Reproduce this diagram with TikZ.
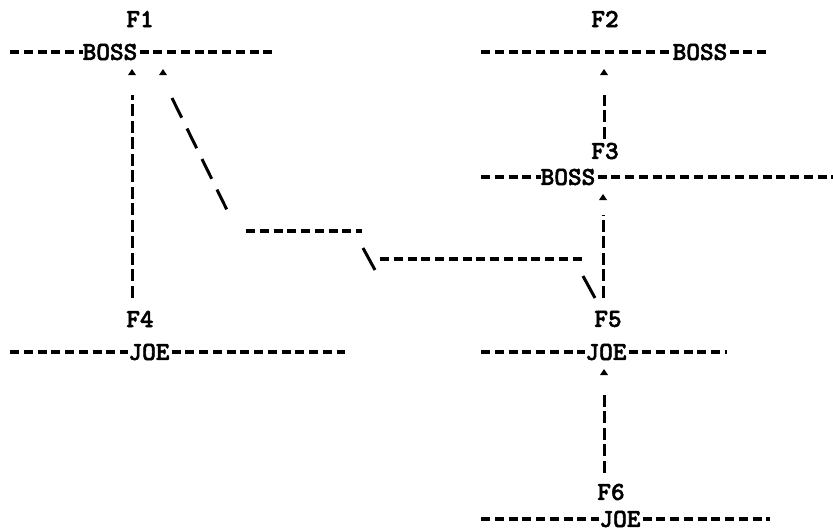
\documentclass[tikz,border=0pt]{standalone}
\usepackage{fontspec}
\newfontfamily\typer{lmmonolt10-bold}[Extension=.otf, FakeStretch=1.0, FakeBold=2]
\begin{document}
\begin{tikzpicture}[x=1pt,y=-1pt,
  lbl/.style={font=\typer\fontsize{26}{26}\selectfont, inner sep=0pt, anchor=center},
  hline/.style={line width=3.4pt, dash pattern=on 9pt off 4.75pt},
  vline/.style={line width=3pt, dash pattern=on 12pt off 4.5pt},
  slant/.style={line width=3pt, dash pattern=on 22pt off 12pt},
  stroke/.style={line width=3pt},
  caret/.pic={\fill (-4,3) -- (0,-3) -- (4,3) -- cycle;}
]
\useasboundingbox (0,0) rectangle (833,531);

% frame labels and their holders
\node[lbl] (f1) at (140,19) {F1};
\node[lbl] (b1) at (110,52) {BOSS};
\node[lbl] (f2) at (605,19) {F2};
\node[lbl] (b2) at (700,52) {BOSS};
\node[lbl] (f3) at (605,151) {F3};
\node[lbl] (b3) at (568,177) {BOSS};
\node[lbl] (f4) at (140,319) {F4};
\node[lbl] (j4) at (149,352) {JOE};
\node[lbl] (f5) at (608,319) {F5};
\node[lbl] (j5) at (606,352) {JOE};
\node[lbl] (f6) at (611,492) {F6};
\node[lbl] (j6) at (620,519) {JOE};

% ends of the frame rules
\coordinate (r1a) at (10,52);  \coordinate (r1b) at (275,52);
\coordinate (r2a) at (481,52); \coordinate (r2b) at (768,52);
\coordinate (r3a) at (481,177); \coordinate (r3b) at (833,177);
\coordinate (r4a) at (10,352); \coordinate (r4b) at (345,352);
\coordinate (r5a) at (481,352); \coordinate (r5b) at (727,352);
\coordinate (r6a) at (481,519); \coordinate (r6b) at (770,519);

% frame rules
\draw[hline] (r1a) -- (b1.west);  \draw[hline, shorten <=2pt] (b1.east) -- (r1b);
\draw[hline] (r2a) -- (b2.west);  \draw[hline, shorten <=2pt] (b2.east) -- (r2b);
\draw[hline] (r3a) -- (b3.west);  \draw[hline, shorten <=2pt] (b3.east) -- (r3b);
\draw[hline] (r4a) -- (j4.west);  \draw[hline, shorten <=2pt] (j4.east) -- (r4b);
\draw[hline] (r5a) -- (j5.west);  \draw[hline, shorten <=2pt] (j5.east) -- (r5b);
\draw[hline] (r6a) -- (j6.west);  \draw[hline, shorten <=2pt] (j6.east) -- (r6b);

% pointer heads
\coordinate (a1) at (132,72);
\coordinate (a1x) at (163,72);
\coordinate (a2) at (604,72);
\coordinate (a3) at (603,197);
\coordinate (a5) at (604,372);
\foreach \c in {a1,a1x,a2,a3,a5} \pic at (\c) {caret};

% vertical pointers
\draw[vline, shorten <=13pt, shorten >=23pt] (a1 |- f4.north) -- (a1);
\draw[vline, shorten <=4pt,  shorten >=23pt] (a2 |- f3.north) -- (a2);
\draw[vline, shorten <=13pt, shorten >=18pt] (a3 |- f5.north) -- (a3);
\draw[vline, shorten <=11pt, shorten >=20pt] (a5 |- f6.north) -- (a5);

% pointer from F5 back to F1
\coordinate (d1) at (172,98);  \coordinate (d2) at (228,212);
\coordinate (d3) at (246,231); \coordinate (d4) at (362,231);
\coordinate (d5) at (363,248); \coordinate (d6) at (375,270);
\coordinate (d7) at (380,259); \coordinate (d8) at (584,259);
\coordinate (d9) at (583,276); \coordinate (d10) at (595,298);
\draw[slant] (d1) -- (d2);
\draw[hline] (d3) -- (d4);
\draw[stroke] (d5) -- (d6);
\draw[hline] (d7) -- (d8);
\draw[stroke] (d9) -- (d10);
\end{tikzpicture}
\end{document}
